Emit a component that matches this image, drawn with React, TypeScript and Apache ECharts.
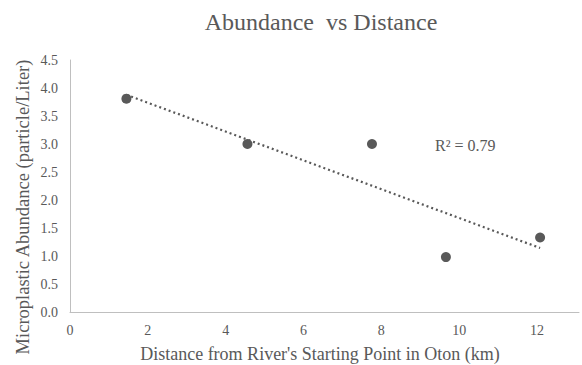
import React, { useEffect, useRef } from "react";
import * as echarts from "echarts";

const distanceKm = [1.45, 4.56, 7.76, 9.66, 12.08];
const abundance = [3.81, 3.0, 3.0, 0.98, 1.33];
const yTicks = [0, 0.5, 1, 1.5, 2, 2.5, 3, 3.5, 4, 4.5];

const titleText = "Abundance  vs Distance";
const xName = "Distance from River's Starting Point in Oton (km)";
const yName = "Microplastic Abundance (particle/Liter)";

function regression(xs: number[], ys: number[]) {
  const n = xs.length;
  const mx = xs.reduce((a, b) => a + b, 0) / n;
  const my = ys.reduce((a, b) => a + b, 0) / n;
  let sxy = 0, sxx = 0, syy = 0;
  for (let i = 0; i < n; i++) {
    sxy += (xs[i] - mx) * (ys[i] - my);
    sxx += (xs[i] - mx) ** 2;
    syy += (ys[i] - my) ** 2;
  }
  const slope = sxy / sxx;
  const intercept = my - slope * mx;
  return { slope, intercept, r2: (sxy * sxy) / (sxx * syy) };
}

export default function App() {
  const ref = useRef<HTMLDivElement>(null);
  useEffect(() => {
    document.body.style.margin = "0";
    if (!ref.current) return;
    const chart = echarts.init(ref.current, undefined, { renderer: "svg" });
    const reg = regression(distanceKm, abundance);
    const xMin = Math.min(...distanceKm);
    const xMax = Math.max(...distanceKm);
    const trend = [
      [xMin, reg.intercept + reg.slope * xMin],
      [xMax, reg.intercept + reg.slope * xMax],
    ];
    const font = "Liberation Serif";
    const grey = "#595959";
    chart.setOption({
      animation: false,
      textStyle: { fontFamily: font },
      title: {
        text: titleText,
        left: 316,
        top: 5,
        textAlign: "center",
        textStyle: { fontFamily: font, fontSize: 24, fontWeight: "normal", color: grey },
      },
      grid: { left: 70, right: 2, top: 60, bottom: 53, containLabel: false },
      xAxis: {
        type: "value",
        min: 0,
        max: 13.08,
        interval: 2,
        axisLine: { show: true, lineStyle: { color: "#bfbfbf", width: 1 } },
        axisTick: { show: false },
        splitLine: { show: false },
        axisLabel: {
          fontFamily: font,
          fontSize: 14,
          color: grey,
          margin: 11,
          formatter: (v: number) => (v % 2 === 0 ? String(v) : ""),
        },
      },
      yAxis: {
        type: "value",
        min: yTicks[0],
        max: yTicks[yTicks.length - 1],
        interval: 0.5,
        axisLine: { show: true, lineStyle: { color: "#bfbfbf", width: 1 } },
        axisTick: { show: false },
        splitLine: { show: false },
        axisLabel: {
          fontFamily: font,
          fontSize: 14,
          color: grey,
          margin: 12,
          formatter: (v: number) => v.toFixed(1),
        },
      },
      graphic: [
        {
          type: "text",
          left: 435,
          top: 137,
          style: {
            text: "R² = " + reg.r2.toFixed(2),
            fill: grey,
            fontFamily: font,
            fontSize: 16,
          },
        },
        {
          type: "text",
          x: 320,
          y: 354,
          style: {
            text: xName,
            fill: grey,
            fontFamily: font,
            fontSize: 18,
            align: "center",
            verticalAlign: "middle",
          },
        },
        {
          type: "text",
          x: 23,
          y: 207,
          rotation: Math.PI / 2,
          style: {
            text: yName,
            fill: grey,
            fontFamily: font,
            fontSize: 18.5,
            align: "center",
            verticalAlign: "middle",
          },
        },
      ],
      series: [
        {
          type: "line",
          data: trend,
          symbol: "none",
          lineStyle: { color: grey, width: 2.2, type: [2, 3] },
          z: 1,
        },
        {
          type: "scatter",
          data: distanceKm.map((x, i) => [x, abundance[i]]),
          symbol: "circle",
          symbolSize: 10,
          itemStyle: { color: grey, opacity: 1 },
          z: 2,
        },
      ],
    });
    return () => chart.dispose();
  }, []);
  return <div ref={ref} style={{ width: 582, height: 365 }} />;
}
